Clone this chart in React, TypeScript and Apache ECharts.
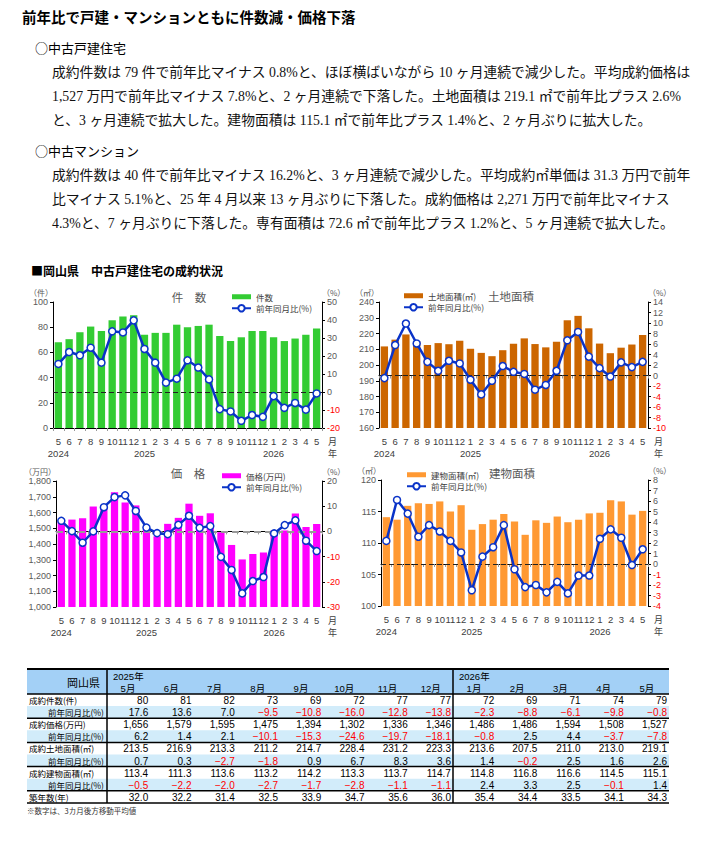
import React, { useEffect, useRef } from 'react';
import * as echarts from 'echarts';

// ---------- data ----------
const monthLabels = ['5','6','7','8','9','10','11','12','1','2','3','4','5','6','7','8','9','10','11','12','1','2','3','4','5'];
const yearLabels = ['2024','','','','','','','','2025','','','','','','','','','','','','2026','','','',''];

const countValues = [68, 70.5, 76, 80.5, 77, 85.5, 88.5, 89.5, 74, 75.5, 75.5, 82, 80, 81, 82, 73, 69, 72, 77, 77, 72, 69, 71, 74, 79];
const countYoY = [15.6, 22.2, 20.4, 24.6, 16.3, 33.7, 33.1, 39.8, 23.9, 16.3, 5.2, 7.4, 17.6, 13.6, 7.0, -9.5, -10.8, -16.0, -12.8, -13.8, -2.3, -8.8, -6.1, -9.8, -0.8];

const landValues = [211.8, 216.1, 219.4, 215.0, 212.7, 213.9, 213.2, 215.4, 210.3, 207.7, 205.6, 209.4, 213.5, 216.9, 213.3, 211.2, 214.7, 228.4, 231.2, 223.3, 213.6, 207.5, 211.0, 213.0, 219.1];
const landYoY = [-0.5, 5.8, 9.9, 6.1, 2.6, 0.9, 2.8, 2.3, -0.8, -3.6, -1.0, 1.8, 0.7, 0.3, -2.7, -1.8, 0.9, 6.7, 8.3, 3.6, 1.4, -0.2, 2.5, 1.6, 2.6];

const priceValues = [1545, 1555, 1564, 1638, 1640, 1728, 1664, 1645, 1490, 1449, 1528, 1566, 1656, 1579, 1595, 1475, 1394, 1302, 1336, 1346, 1486, 1486, 1594, 1508, 1527];
const priceYoY = [4.2, 0.1, -4.5, 0.0, 9.6, 13.6, 14.3, 8.1, 1.5, -0.7, -1.1, 2.6, 6.2, 1.4, 2.1, -10.1, -15.3, -24.6, -19.7, -18.1, -0.8, 2.5, 4.4, -3.7, -7.8];

const buildValues = [114.1, 113.7, 115.9, 116.3, 116.2, 116.6, 115.0, 116.0, 112.1, 113.0, 113.7, 114.6, 113.4, 111.3, 113.6, 113.2, 114.2, 113.3, 113.7, 114.7, 114.8, 116.8, 116.6, 114.5, 115.1];
const buildYoY = [2.2, 6.1, 4.8, 2.6, 3.7, 3.1, 2.2, 1.1, -2.5, 0.7, 1.6, 3.7, -0.5, -2.2, -2.0, -2.7, -1.7, -2.8, -1.1, -1.1, 2.4, 3.3, 2.5, -0.1, 1.4];

const ageValues = [32.0, 32.2, 31.4, 32.5, 33.9, 34.7, 35.6, 36.0, 35.4, 34.4, 33.5, 34.1, 34.3];

const tableMonths = ['5月','6月','7月','8月','9月','10月','11月','12月','1月','2月','3月','4月','5月'];
const tableRowLabels = ['成約件数(件)','前年同月比(%)','成約価格(万円)','前年同月比(%)','成約土地面積(㎡)','前年同月比(%)','成約建物面積(㎡)','前年同月比(%)','築年数(年)'];

const pageTitle = '前年比で戸建・マンションともに件数減・価格下落';
const houseHead = '○中古戸建住宅';
const houseLines = [
  '成約件数は 79 件で前年比マイナス 0.8%と、ほぼ横ばいながら 10 ヶ月連続で減少した。平均成約価格は',
  '1,527 万円で前年比マイナス 7.8%と、2 ヶ月連続で下落した。土地面積は 219.1 ㎡で前年比プラス 2.6%',
  'と、3 ヶ月連続で拡大した。建物面積は 115.1 ㎡で前年比プラス 1.4%と、2 ヶ月ぶりに拡大した。',
];
const mansionHead = '○中古マンション';
const mansionLines = [
  '成約件数は 40 件で前年比マイナス 16.2%と、3 ヶ月連続で減少した。平均成約㎡単価は 31.3 万円で前年',
  '比マイナス 5.1%と、25 年 4 月以来 13 ヶ月ぶりに下落した。成約価格は 2,271 万円で前年比マイナス',
  '4.3%と、7 ヶ月ぶりに下落した。専有面積は 72.6 ㎡で前年比プラス 1.2%と、5 ヶ月連続で拡大した。',
];

const SANS = "'Noto Sans CJK JP', sans-serif";
const MINCHO = "'Liberation Serif', 'Noto Sans CJK JP', serif";
const NUM = "'Liberation Sans', 'Noto Sans CJK JP', sans-serif";
const LINE_NAME = '前年同月比(%)';

export default function App() {
  const ref = useRef<HTMLDivElement>(null);
  useEffect(() => {
    if (!ref.current) return;
    const chart = echarts.init(ref.current, undefined, { renderer: 'svg' });

    const panels = [
      { left: 53, top: 302, width: 269, height: 126, bar: countValues, yoy: countYoY, barName: '件数', color: '#33CC33',
        lmin: 0, lmax: 100, lint: 20, rmin: -20, rmax: 50, rint: 10, unit: '（件）', title: '件　数', tx: 189, ty: 297,
        legL: 226, legT: 287.5, zero: '#222', comma: false, my: 441 },
      { left: 379, top: 302, width: 269, height: 126, bar: landValues, yoy: landYoY, barName: '土地面積(㎡)', color: '#CC6600',
        lmin: 160, lmax: 240, lint: 10, rmin: -10, rmax: 14, rint: 2, unit: '（㎡）', title: '土地面積', tx: 511, ty: 296,
        legL: 398, legT: 286.5, zero: '#222', comma: false, my: 441 },
      { left: 56, top: 481, width: 266, height: 126, bar: priceValues, yoy: priceYoY, barName: '価格(万円)', color: '#FF00FF',
        lmin: 1000, lmax: 1800, lint: 100, rmin: -30, rmax: 20, rint: 10, unit: '（万円）', title: '価　格', tx: 188, ty: 473,
        legL: 216, legT: 466.5, zero: '#999', comma: true, my: 620 },
      { left: 381, top: 480, width: 267, height: 126, bar: buildValues, yoy: buildYoY, barName: '建物面積(㎡)', color: '#FF9933',
        lmin: 100, lmax: 120, lint: 5, rmin: -4, rmax: 8, rint: 1, unit: '（㎡）', title: '建物面積', tx: 512, ty: 473,
        legL: 401, legT: 465.5, zero: '#222', comma: false, my: 619 },
    ];

    const grid: any[] = [];
    const xAxis: any[] = [];
    const yAxis: any[] = [];
    const series: any[] = [];
    const legend: any[] = [];
    const graphic: any[] = [];

    const text = (t: string, x: number, y: number, o: any = {}) => {
      graphic.push({
        type: 'text', x, y, silent: true, z: o.z ?? 10,
        style: {
          text: t, fill: o.fill ?? '#000', fontSize: o.size ?? 12, fontFamily: o.family ?? SANS,
          fontWeight: o.weight ?? 'normal', align: o.align ?? 'left', verticalAlign: 'middle',
        },
      });
    };

    panels.forEach((p, i) => {
      grid.push({ left: p.left, top: p.top, width: p.width, height: p.height });
      xAxis.push({
        type: 'category', gridIndex: i, data: monthLabels, boundaryGap: true,
        axisLine: { lineStyle: { color: '#000', width: 1 } },
        axisTick: { show: true, length: 3, lineStyle: { color: '#999' } },
        axisLabel: { interval: 0, fontSize: 9.5, color: '#404040', margin: 9, fontFamily: NUM },
        splitLine: { show: false },
      });
      xAxis.push({
        type: 'category', gridIndex: i, data: yearLabels, boundaryGap: true, position: 'bottom', offset: 12,
        axisLine: { show: false }, axisTick: { show: false }, splitLine: { show: false },
        axisLabel: { interval: 0, fontSize: 9.5, color: '#404040', margin: 9, fontFamily: NUM },
      });
      yAxis.push({
        type: 'value', gridIndex: i, min: p.lmin, max: p.lmax, interval: p.lint, position: 'left',
        axisLine: { show: true, lineStyle: { color: '#000' } },
        axisTick: { show: true, length: 3, lineStyle: { color: '#000' } },
        splitLine: { show: false },
        axisLabel: {
          fontSize: 9, color: '#595959', margin: 5, fontFamily: NUM,
          formatter: (v: number) => (p.comma ? v.toLocaleString('en-US') : String(v)),
        },
        name: p.unit, nameLocation: 'end', nameGap: 6,
        nameTextStyle: { fontSize: 8, color: '#595959', align: 'right', fontFamily: SANS },
      });
      yAxis.push({
        type: 'value', gridIndex: i, min: p.rmin, max: p.rmax, interval: p.rint, position: 'right',
        axisLine: { show: true, lineStyle: { color: '#000' } },
        axisTick: { show: true, length: 3, lineStyle: { color: '#000' } },
        splitLine: { show: false },
        axisLabel: {
          margin: 5,
          formatter: (v: number) => (v < 0 ? '{n|' + v + '}' : '{p|' + v + '}'),
          rich: { n: { color: '#FF0000', fontSize: 9, fontFamily: NUM }, p: { color: '#595959', fontSize: 9, fontFamily: NUM } },
        },
        name: '（%）', nameLocation: 'end', nameGap: 6,
        nameTextStyle: { fontSize: 8, color: '#595959', align: 'left', fontFamily: SANS },
      });
      series.push({
        type: 'bar', name: p.barName, xAxisIndex: i * 2, yAxisIndex: i * 2, data: p.bar,
        barCategoryGap: '32%', itemStyle: { color: p.color }, z: 2,
      });
      series.push({
        type: 'line', name: LINE_NAME, xAxisIndex: i * 2, yAxisIndex: i * 2 + 1, data: p.yoy,
        symbol: 'circle', symbolSize: 7, z: 5,
        lineStyle: { color: '#0A33C8', width: 2.5 },
        itemStyle: { color: '#FFFFFF', borderColor: '#0A33C8', borderWidth: 1.5 },
        markLine: {
          silent: true, symbol: ['none', 'none'], label: { show: false },
          lineStyle: { color: p.zero, type: p.zero === '#999' ? [7, 4] : [5, 3], width: p.zero === '#999' ? 2 : 1.2 },
          data: [{ yAxis: 0 }], z: 3,
        },
      });
      legend.push({
        left: p.legL, top: p.legT, orient: 'vertical', itemGap: 3, itemWidth: 19, itemHeight: 8,
        textStyle: { fontSize: 8.5, color: '#404040', fontFamily: SANS },
        selectedMode: false,
        data: [{ name: p.barName, icon: 'path://M0,0H19V5H0Z' }, { name: LINE_NAME }],
      });
      text(p.title, p.tx, p.ty, { size: 11.5, fill: '#595959', align: 'center' });
      const ex = p.left + p.width + 6;
      text('月', ex, p.my, { size: 9, fill: '#404040' });
      text('年', ex, p.my + 12, { size: 9, fill: '#404040' });
    });

    // ---- header texts ----
    text(pageTitle, 22, 16, { size: 14.5, weight: 'bold' });
    text(houseHead, 35, 47, { size: 13 });
    houseLines.forEach((l, k) => text(l, 52, 72 + k * 24, { size: 13.8, family: MINCHO, fill: '#111' }));
    text(mansionHead, 35, 150, { size: 13 });
    mansionLines.forEach((l, k) => text(l, 52, 175 + k * 24, { size: 13.8, family: MINCHO, fill: '#111' }));
    text('■岡山県　中古戸建住宅の成約状況', 31, 270, { size: 12, weight: 'bold' });

    // ---- table ----
    const tX = 27, tR = 669, hTop = 669, hBot = 694, rowH = 12.1;
    const colL = (c: number) => (c < 8 ? 107 + c * 43.25 : 453 + (c - 8) * 43.2);
    const colW = 43.2;
    graphic.push({ type: 'rect', z: 1, silent: true, shape: { x: tX, y: hTop, width: tR - tX, height: hBot - hTop }, style: { fill: '#A3D0F6' } });
    const rowsData = [
      countValues.slice(12), countYoY.slice(12), priceValues.slice(12), priceYoY.slice(12),
      landValues.slice(12), landYoY.slice(12), buildValues.slice(12), buildYoY.slice(12), ageValues,
    ];
    const decimals = [0, 1, 0, 1, 1, 1, 1, 1, 1];
    const fmt = (v: number, d: number) =>
      (v < 0 ? '−' : '') + Math.abs(v).toLocaleString('en-US', { minimumFractionDigits: d, maximumFractionDigits: d });
    rowsData.forEach((row, r) => {
      const y0 = hBot + r * rowH;
      const yc = y0 + rowH / 2;
      const isYoY = r % 2 === 1 && r < 8;
      if (isYoY) {
        graphic.push({ type: 'rect', z: 1, silent: true, shape: { x: tX, y: y0, width: tR - tX, height: rowH }, style: { fill: '#D2ECFA' } });
        text(tableRowLabels[r], 104, yc, { size: 8.5, align: 'right' });
      } else {
        text(tableRowLabels[r], 29, yc, { size: 8.5 });
      }
      row.forEach((v: number, c: number) => {
        text(fmt(v, decimals[r]), colL(c) + colW - 2, yc + 0.5, { size: 10, family: NUM, align: 'right', fill: v < 0 ? '#FF0000' : '#000' });
      });
    });
    text('岡山県', 67, 681.5, { size: 11 });
    text('2025年', 113, 676, { size: 9.5, family: NUM });
    text('2026年', 459, 676, { size: 9.5, family: NUM });
    tableMonths.forEach((m, c) => text(m, colL(c) + 21, 688.5, { size: 9.5, family: NUM, align: 'center' }));
    const hl = (y: number, w: number) =>
      graphic.push({ type: 'line', z: 5, silent: true, shape: { x1: tX, y1: y, x2: tR, y2: y }, style: { stroke: '#000', lineWidth: w } });
    hl(hTop, 2);
    hl(hBot, 1.5);
    [2, 4, 6, 8].forEach((r) => hl(hBot + r * rowH, 1.5));
    hl(hBot + 9 * rowH, 1.5);
    [107, 453].forEach((x) =>
      graphic.push({ type: 'line', z: 5, silent: true, shape: { x1: x, y1: hTop, x2: x, y2: hBot + 9 * rowH }, style: { stroke: '#000', lineWidth: 1.5 } }));
    text('※数字は、3カ月後方移動平均値', 27, 810, { size: 7.5, fill: '#333' });

    chart.setOption({
      animation: false,
      backgroundColor: '#fff',
      textStyle: { fontFamily: SANS },
      grid, xAxis, yAxis, series, legend, graphic,
    });
    return () => chart.dispose();
  }, []);
  return <div ref={ref} style={{ position: 'fixed', left: 0, top: 0, width: 702, height: 846 }} />;
}
